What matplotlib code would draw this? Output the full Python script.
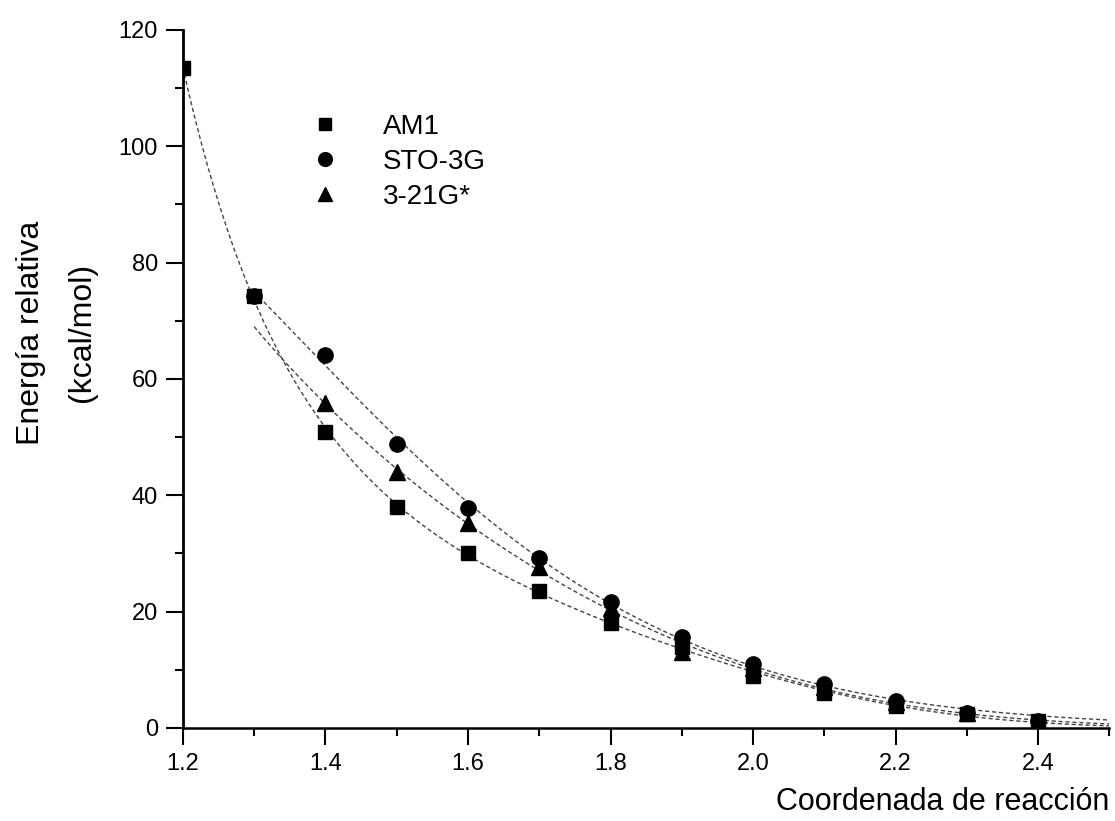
""" Energia relativa vs coordenada de reaccion """
import numpy as np
import matplotlib.pyplot as plt
from matplotlib.ticker import MultipleLocator

plt.rcParams["font.family"] = ["Liberation Sans", "DejaVu Sans"]

# data
x_am1 = [1.2, 1.3, 1.4, 1.5, 1.6, 1.7, 1.8, 1.9, 2.0, 2.1, 2.2, 2.3, 2.4]
y_am1 = [113.4, 74.3, 50.9, 38.0, 30.0, 23.6, 18.0, 14.0, 9.0, 6.0, 3.8, 2.4, 1.2]

x_sto = [1.3, 1.4, 1.5, 1.6, 1.7, 1.8, 1.9, 2.0, 2.1, 2.2, 2.3, 2.4]
y_sto = [74.3, 64.1, 48.8, 37.9, 29.3, 21.6, 15.6, 11.0, 7.6, 4.6, 2.6, 1.2]

x_321 = [1.4, 1.5, 1.6, 1.7, 1.8, 1.9, 2.0, 2.1, 2.2, 2.3, 2.4]
y_321 = [55.9, 44.0, 35.2, 27.6, 20.7, 13.0, 10.3, 7.0, 4.4, 2.5, 1.2]

labels = ["AM1", "STO-3G", "3-21G*"]


def log_poly_fit(x, y, x_new, deg=3):
    """Smooth positive fit: polynomial in log(y), weighted by y."""
    x = np.asarray(x)
    y = np.asarray(y)
    p = np.polyfit(x, np.log(y), deg, w=y)
    return np.exp(np.polyval(p, x_new))


fig = plt.figure(figsize=(11.15, 8.21), dpi=100)
ax = fig.add_axes([0.164, 0.1133, 0.831, 0.8502])

# fitted curves (dotted)
line_kw = dict(color="#444444", lw=1.0, ls=(0, (3, 2)), zorder=1)
xs = np.linspace(1.2, 2.5, 300)
ax.plot(xs, log_poly_fit(x_am1, y_am1, xs), **line_kw)
xs = np.linspace(1.3, 2.5, 300)
ax.plot(xs, log_poly_fit(x_sto, y_sto, xs), **line_kw)
ax.plot(xs, log_poly_fit(x_321, y_321, xs), **line_kw)

ax.plot(x_sto, y_sto, "o", color="black", ms=11, ls="none", label=labels[1], zorder=3)
ax.plot(x_321, y_321, "^", color="black", ms=11, ls="none", label=labels[2], zorder=3)
ax.plot(x_am1, y_am1, "s", color="black", ms=10, ls="none", label=labels[0], zorder=4)

handles, labs = ax.get_legend_handles_labels()
order = [2, 0, 1]
ax.legend([handles[i] for i in order], [labs[i] for i in order],
          loc="upper left", bbox_to_anchor=(0.123, 0.90), frameon=False,
          fontsize=20, handlelength=1.0, handletextpad=1.6,
          labelspacing=0.33, borderpad=0, markerscale=0.9)

ax.set_xlim(1.2, 2.5)
ax.set_ylim(0, 120)
ax.xaxis.set_major_locator(MultipleLocator(0.2))
ax.xaxis.set_minor_locator(MultipleLocator(0.1))
ax.yaxis.set_major_locator(MultipleLocator(20))
ax.yaxis.set_minor_locator(MultipleLocator(10))
ax.xaxis.set_major_formatter(plt.FuncFormatter(lambda v, p: f"{v:.1f}"))

for s in ["top", "right"]:
    ax.spines[s].set_visible(False)
ax.spines["left"].set_linewidth(2.0)
ax.spines["bottom"].set_linewidth(1.8)

ax.tick_params(which="major", length=12, width=1.5, labelsize=17, pad=6)
ax.tick_params(which="minor", length=6, width=1.5)

ax.set_xlabel("Coordenada de reacción", fontsize=22)
ax.xaxis.set_label_coords(1.0, -0.085)
ax.xaxis.label.set_horizontalalignment("right")
ax.set_ylabel("Energía relativa\n(kcal/mol)", fontsize=23, linespacing=1.9)
ax.yaxis.set_label_coords(-0.093, 0.566)

fig.savefig("out.png", dpi=100)
